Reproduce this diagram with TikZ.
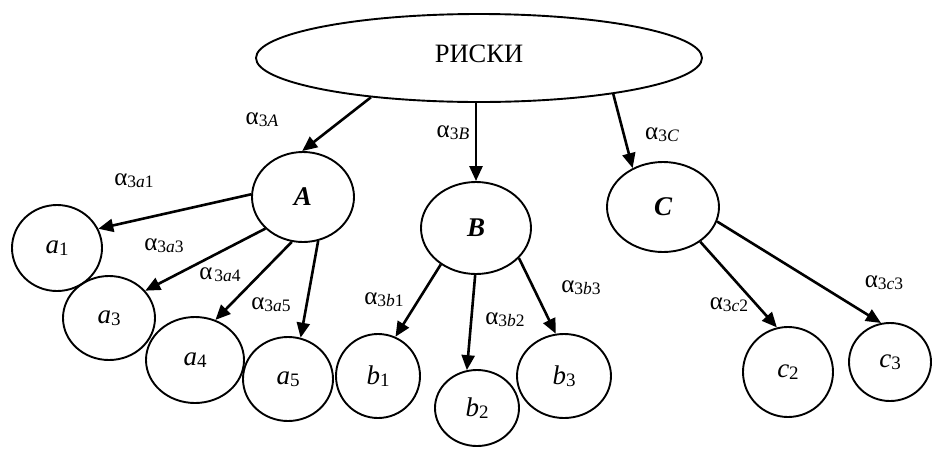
\documentclass[tikz,border=0pt]{standalone}
\usepackage{fontspec}
\setmainfont{Liberation Serif}
\usetikzlibrary{shapes.geometric,arrows.meta}
\newcommand\alb[1]{{\fontsize{25}{25}\selectfont α}\raisebox{-0.45ex}{\fontsize{17.5}{17.5}\selectfont #1}}
\newcommand\nlab[2]{{\fontsize{27}{27}\selectfont\textit{#1}}\raisebox{-0.35ex}{\fontsize{19}{19}\selectfont #2}}
\begin{document}
\begin{tikzpicture}[x=1pt,y=-1pt,
  ell/.style={draw,ellipse,line width=1.9pt,inner sep=0pt},
  arr/.style={line width=2.6pt,-{Triangle[length=15pt,width=13pt]}},
  lbl/.style={inner sep=0pt},
  big/.style={font=\fontsize{27}{27}\selectfont\bfseries\itshape}]
\useasboundingbox (0,0) rectangle (932,448);
\node[ell,minimum width=446pt,minimum height=88pt] (R) at (479,58) {};
\node[lbl,font=\fontsize{26.5}{26.5}\selectfont] (Rt) at (479,54) {РИСКИ};
\node[ell,big,minimum width=102pt,minimum height=90pt] (A) at (303,197) {A};
\node[ell,big,minimum width=110pt,minimum height=92pt] (B) at (476,228) {B};
\node[ell,big,minimum width=112pt,minimum height=90pt] (C) at (663,207) {C};
\node[ell,minimum width=90pt,minimum height=86pt] (a1) at (57,248) {\nlab{a}{1}};
\node[ell,minimum width=92pt,minimum height=84pt] (a3) at (109,318) {\nlab{a}{3}};
\node[ell,minimum width=98pt,minimum height=86pt] (a4) at (195,360) {\nlab{a}{4}};
\node[ell,minimum width=90pt,minimum height=84pt] (a5) at (288,379) {\nlab{a}{5}};
\node[ell,minimum width=84pt,minimum height=84pt] (b1) at (378,376) {\nlab{b}{1}};
\node[ell,minimum width=84pt,minimum height=76pt] (b2) at (477,408) {\nlab{b}{2}};
\node[ell,minimum width=94pt,minimum height=84pt] (b3) at (564,376) {\nlab{b}{3}};
\node[ell,minimum width=90pt,minimum height=90pt] (c2) at (788,372) {\nlab{c}{2}};
\node[ell,minimum width=82pt,minimum height=78pt] (c3) at (890,362) {\nlab{c}{3}};
% connectors
\draw[arr] (R.200) -- (A.91);
\draw[arr] (B.north |- R.south) -- (B.north);
\draw[arr] (R.345) -- (C.128);
\draw[arr] (A.177) -- (a1.25);
\draw[arr] (A.220) -- (a3.37);
\draw[arr] (A.256) -- (a4.63);
\draw[arr] (A.289) -- (a5.73);
\draw[arr] (B.226) -- (b1.66);
\draw[arr] (B.269) -- (b2.105);
\draw[arr] (B.325) -- (b3.101);
\draw[arr] (C.317) -- (c2.104);
\draw[arr] (C.345) -- (c3.103);
% labels
\node[lbl] (l3A) at (262,120) {\alb{3\textit{A}}};
\node[lbl] (l3B) at (453,133) {\alb{3\textit{B}}};
\node[lbl] (l3C) at (662,135) {\alb{3\textit{C}}};
\node[lbl] (l3a1) at (134,181) {\alb{3\textit{a}1}};
\node[lbl] (l3a3) at (164,246) {\alb{3\textit{a}3}};
\node[lbl] (l3a4) at (220,275) {{\fontsize{25}{25}\selectfont α}\,\raisebox{-0.45ex}{\fontsize{17.5}{17.5}\selectfont 3\textit{a}4}};
\node[lbl] (l3a5) at (271,305) {\alb{3\textit{a}5}};
\node[lbl] (l3b1) at (384,300) {\alb{3\textit{b}1}};
\node[lbl] (l3b2) at (505,320) {\alb{3\textit{b}2}};
\node[lbl] (l3b3) at (581,288) {\alb{3\textit{b}3}};
\node[lbl] (l3c2) at (729,305) {\alb{3\textit{c}2}};
\node[lbl] (l3c3) at (884,283) {\alb{3\textit{c}3}};
\end{tikzpicture}
\end{document}
